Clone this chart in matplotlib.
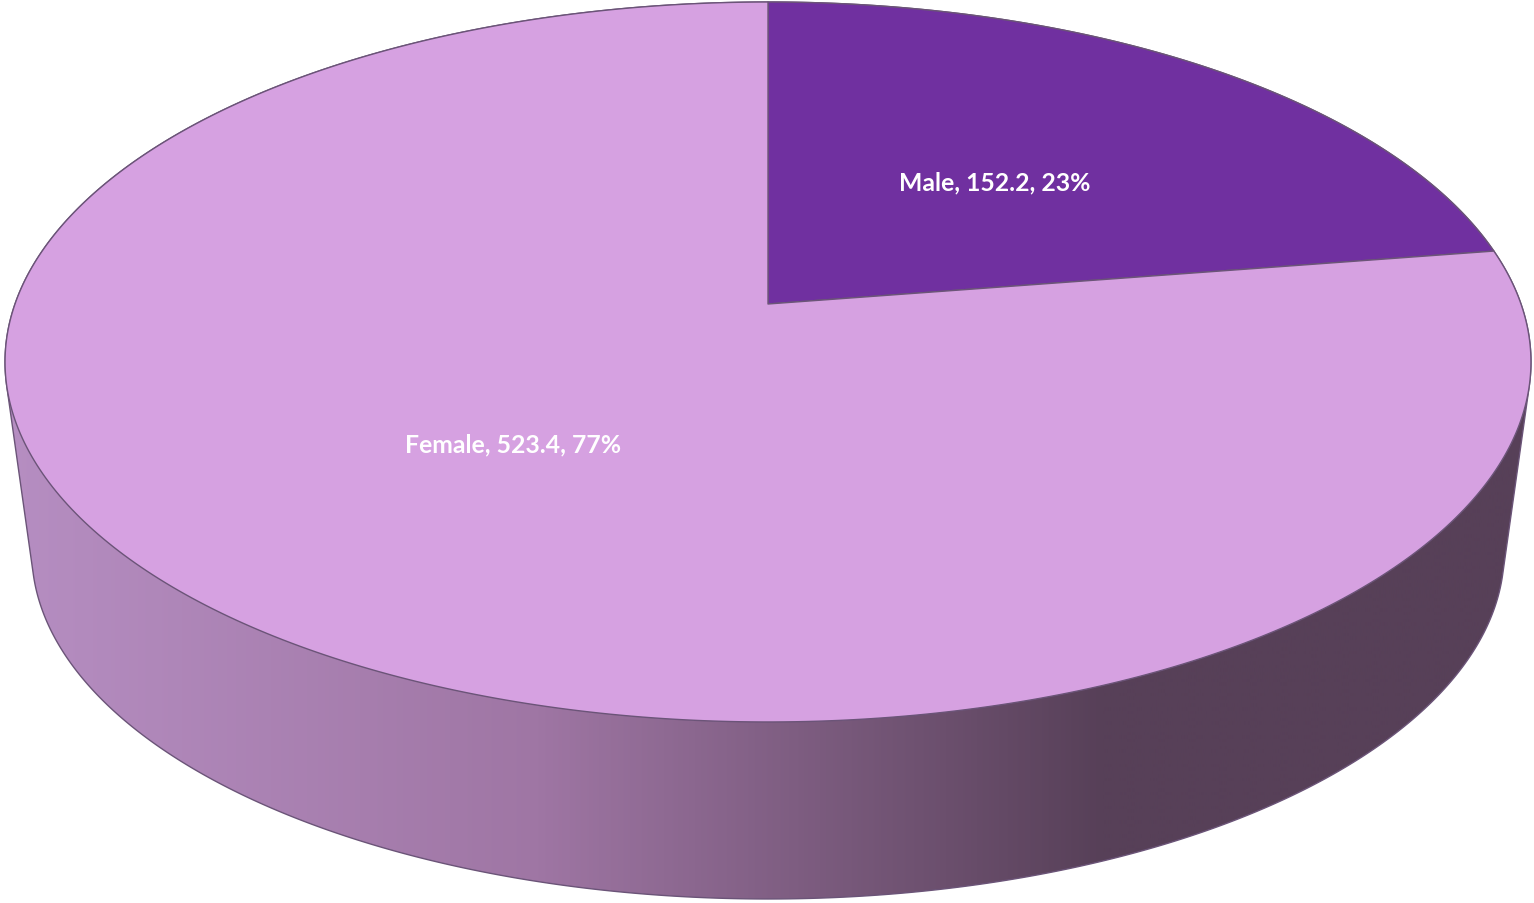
import numpy as np
import matplotlib
matplotlib.use("Agg")
import matplotlib.pyplot as plt
from matplotlib.patches import Polygon
from matplotlib.colors import LinearSegmentedColormap

# ---- data ----
categories = ["Male", "Female"]
values = [152.2, 523.4]
slice_colors = ["#7030A0", "#D6A1E1"]

# ---- layout / projection (pixel space) ----
W, H = 1534, 904
CX, A, K, C0, D = 768.0, 753.0, 0.1611, 305.0, -301.5   # top face homography
S_BOT, OFF_BOT = 0.965, 202.3                              # bottom face (depth)


def proj_top(x, y):
    w = 1.0 + K * y
    return CX + A * x / w, (C0 + D * y) / w


def proj_bot(x, y):
    u, v = proj_top(x, y)
    return CX + S_BOT * (u - CX), S_BOT * v + OFF_BOT


def hull(pts):
    pts = sorted(set(map(tuple, np.round(pts, 3))))
    def cross(o, a, b):
        return (a[0]-o[0])*(b[1]-o[1]) - (a[1]-o[1])*(b[0]-o[0])
    lower, upper = [], []
    for p in pts:
        while len(lower) >= 2 and cross(lower[-2], lower[-1], p) <= 0:
            lower.pop()
        lower.append(p)
    for p in reversed(pts):
        while len(upper) >= 2 and cross(upper[-2], upper[-1], p) <= 0:
            upper.pop()
        upper.append(p)
    return np.array(lower[:-1] + upper[:-1])


fig = plt.figure(figsize=(W / 100, H / 100), dpi=100)
ax = fig.add_axes([0, 0, 1, 1])
ax.set_xlim(0, W)
ax.set_ylim(H, 0)
ax.axis("off")

edge = "#6B5478"

# ---- side (cylinder silhouette minus top face) ----
t = np.linspace(0, 2 * np.pi, 1441)
tu, tv = proj_top(np.cos(t), np.sin(t))
bu, bv = proj_bot(np.cos(t), np.sin(t))
hp = hull(np.vstack([np.column_stack([tu, tv]), np.column_stack([bu, bv])]))
side = Polygon(hp, closed=True, facecolor="none", edgecolor=edge, lw=1.0, zorder=3)
ax.add_patch(side)
cmap = LinearSegmentedColormap.from_list(
    "side", [(0.0, "#B68EC2"), (0.35, "#9F76A4"), (0.72, "#574058"), (1.0, "#574058")])
grad = np.linspace(0, 1, 600)[None, :]
im = ax.imshow(grad, cmap=cmap, extent=[0, W, H, 0], aspect="auto", zorder=2,
               interpolation="bilinear")
im.set_clip_path(Polygon(hp, closed=True, transform=ax.transData))

# ---- top face wedges ----
vals = np.array(values)
fracs = vals / vals.sum()
start = 90.0
for cat, val, frac, col in zip(categories, vals, fracs, slice_colors):
    end = start - 360.0 * frac
    ang = np.radians(np.linspace(start, end, 400))
    xs = np.concatenate([[0], np.cos(ang), [0]])
    ys = np.concatenate([[0], np.sin(ang), [0]])
    u, v = proj_top(xs, ys)
    ax.add_patch(Polygon(np.column_stack([u, v]), closed=True, facecolor=col,
                         edgecolor=edge, lw=1.0, zorder=4, joinstyle="round"))
    mid = np.radians((start + end) / 2)
    lu, lv = proj_top(0.49 * np.cos(mid), 0.49 * np.sin(mid))
    ax.text(lu, lv + 1.5, f"{cat}, {val:.1f}, {frac*100:.0f}%", color="white",
            fontsize=17.8, fontweight="bold", family=["Lato", "DejaVu Sans"],
            ha="center", va="center", zorder=5)
    start = end

fig.savefig("out.png", dpi=100)
